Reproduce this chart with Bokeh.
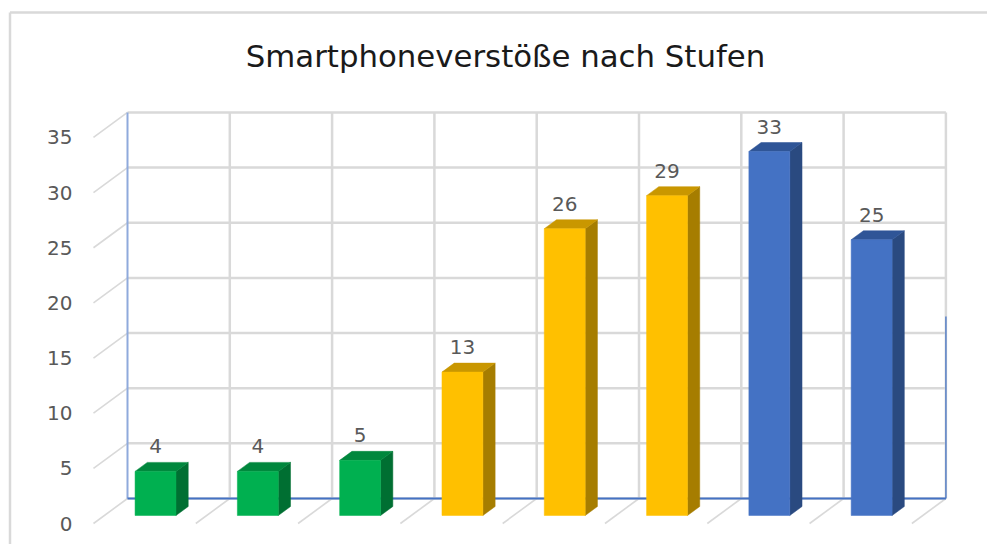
from bokeh.plotting import figure
from bokeh.models import Range1d, FixedTicker
from bokeh.core.properties import value
from bokeh.embed import file_html
from bokeh.resources import INLINE

title_text = "Smartphoneverstöße nach Stufen"
values = [4, 4, 5, 13, 26, 29, 33, 25]
front_colors = ["#00B050"] * 3 + ["#FFC000"] * 3 + ["#4472C4"] * 2
top_colors = ["#00873D"] * 3 + ["#C99700"] * 3 + ["#2F5597"] * 2
side_colors = ["#006F32"] * 3 + ["#A67D00"] * 3 + ["#2A4A80"] * 2
y_ticks = [0, 5, 10, 15, 20, 25, 30, 35]
n_slots = len(values)
y_max = 35

W, H = 987, 544
PX_X, PX_Y = 102.3, 11.03          # pixels per category / per value
X0, Y0 = 93, 523                   # page position of the front corner
DX, DY = 34 / PX_X, 25 / PX_Y      # depth of the 3D box in data units
BAR_W = 0.4
D_FRONT, D_BACK = 0.32, 0.68       # depth of a bar's faces in the box

p = figure(width=W, height=H, output_backend="svg", toolbar_location=None,
           min_border=0, min_border_left=0, min_border_right=0,
           min_border_top=0, min_border_bottom=0,
           x_range=Range1d(-X0 / PX_X, (W - X0) / PX_X),
           y_range=Range1d((Y0 - H) / PX_Y, Y0 / PX_Y),
           outline_line_color=None, background_fill_color="white")
p.xaxis.visible = False
p.xgrid.visible = False
p.ygrid.visible = False

ax = p.yaxis[0]
ax.fixed_location = 0
ax.ticker = FixedTicker(ticks=y_ticks)
ax.axis_line_color = None
ax.major_tick_line_color = None
ax.minor_tick_line_color = None
ax.major_label_standoff = 15
ax.major_label_text_font = "DejaVu Sans"
ax.major_label_text_font_size = "20px"
ax.major_label_text_color = "#595959"

GRID = "#D9D9D9"
BLUE = "#4472C4"
xl, xr = -X0 / PX_X, (W - X0) / PX_X
yb, yt = (Y0 - H) / PX_Y, Y0 / PX_Y

# chart border
p.segment([xl + 9.5 / PX_X, xl + 9.5 / PX_X], [yt - 12 / PX_Y, yt - 12 / PX_Y],
          [xl + 9.5 / PX_X, xr], [yb, yt - 12 / PX_Y], line_color=GRID, line_width=2.5)

# back wall: horizontal and vertical grid
p.segment([DX] * len(y_ticks), [t + DY for t in y_ticks],
          [n_slots + DX] * len(y_ticks), [t + DY for t in y_ticks],
          line_color=GRID, line_width=2.5)
p.segment([i + DX for i in range(1, n_slots + 1)], [DY] * n_slots,
          [i + DX for i in range(1, n_slots + 1)], [y_max + DY] * n_slots,
          line_color=GRID, line_width=2.5)
# slanted ticks on side wall and floor
p.segment([0] * len(y_ticks), y_ticks, [DX] * len(y_ticks), [t + DY for t in y_ticks],
          line_color=GRID, line_width=1.6)
p.segment(list(range(1, n_slots + 1)), [0] * n_slots,
          [i + DX for i in range(1, n_slots + 1)], [DY] * n_slots,
          line_color=GRID, line_width=1.6)
# blue axis lines
p.segment([DX], [DY], [DX], [y_max + DY], line_color="#8FAADC", line_width=2)
p.segment([DX], [DY], [n_slots + DX], [DY], line_color=BLUE, line_width=2)
p.segment([n_slots + DX], [DY], [n_slots + DX], [16.5 + DY], line_color=BLUE, line_width=1.6, line_alpha=0.8)

# 3D bars
fx, fy, sx, sy, tx, ty = [], [], [], [], [], []
for i, v in enumerate(values):
    l = i + 0.5 - BAR_W / 2 + D_FRONT * DX
    r = l + BAR_W
    b = D_FRONT * DY
    t = v + b
    dx = (D_BACK - D_FRONT) * DX
    dy = (D_BACK - D_FRONT) * DY
    fx.append([l, r, r, l]); fy.append([b, b, t, t])
    sx.append([r, r + dx, r + dx, r]); sy.append([b, b + dy, t + dy, t])
    tx.append([l, r, r + dx, l + dx]); ty.append([t, t, t + dy, t + dy])
p.patches(sx, sy, fill_color=side_colors, line_color=side_colors, line_width=0.5)
p.patches(tx, ty, fill_color=top_colors, line_color=top_colors, line_width=0.5)
p.patches(fx, fy, fill_color=front_colors, line_color=front_colors, line_width=0.5)

# data labels
p.text([i + 0.5 + D_FRONT * DX for i in range(n_slots)],
       [v + D_FRONT * DY + 25 / PX_Y for v in values],
       text=[str(v) for v in values], text_align="center", text_baseline="middle",
       text_font=value("DejaVu Sans"), text_font_size="20px", text_color="#595959")

# title
p.text([(505 - X0) / PX_X], [(Y0 - 55) / PX_Y], text=[title_text],
       text_align="center", text_baseline="middle",
       text_font=value("DejaVu Sans"), text_font_size="30.8px", text_color="#1A1A1A")

open("out.html", "w").write(file_html(p, INLINE))
